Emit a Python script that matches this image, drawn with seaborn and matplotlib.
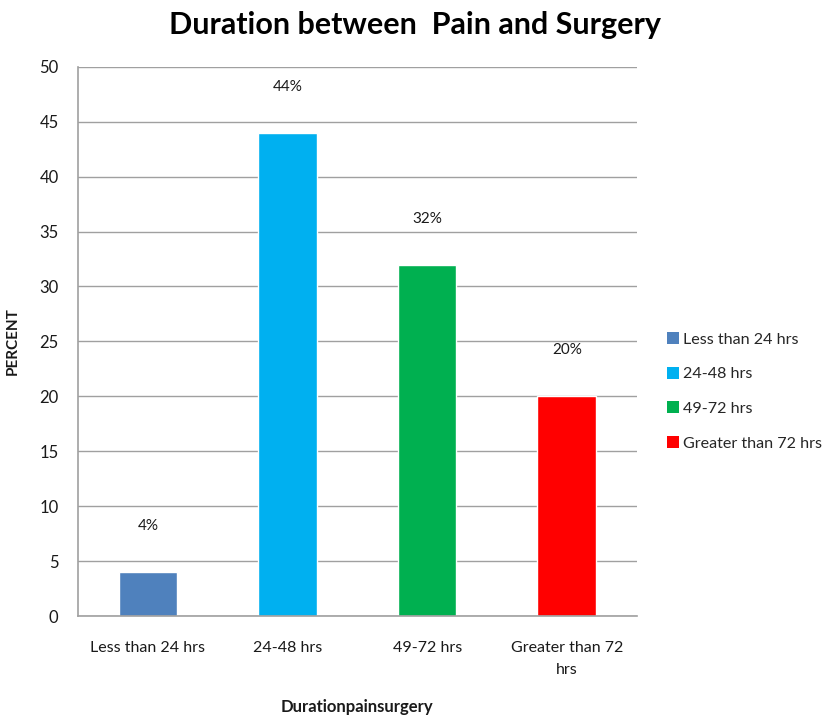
import matplotlib
matplotlib.use("Agg")
import matplotlib.pyplot as plt
import seaborn as sns
import pandas as pd
from matplotlib.patches import Patch

categories = ["Less than 24 hrs", "24-48 hrs", "49-72 hrs", "Greater than 72 hrs"]
tick_labels = ["Less than 24 hrs", "24-48 hrs", "49-72 hrs", "Greater than 72\nhrs"]
values = [4, 44, 32, 20]
value_labels = ["4%", "44%", "32%", "20%"]
colors = ["#4F81BD", "#00B0F0", "#00B050", "#FF0000"]

df = pd.DataFrame({"cat": categories, "val": values})

sns.set_theme(style="white")
plt.rcParams["font.family"] = ["Lato", "DejaVu Sans"]

fig = plt.figure(figsize=(8.3, 7.18), dpi=100)
ax = fig.add_axes([0.094, 0.142, 0.673, 0.765])

sns.barplot(data=df, x="cat", y="val", hue="cat", palette=colors, dodge=False,
            width=0.42, saturation=1, legend=False, ax=ax)

ax.set_ylim(0, 50)
ax.set_xlim(-0.5, 3.5)
ax.set_yticks(range(0, 51, 5))
ax.yaxis.grid(True, color="#A0A0A0", linewidth=1)
ax.set_axisbelow(True)
for s in ["top", "right"]:
    ax.spines[s].set_visible(False)
for s in ["left", "bottom"]:
    ax.spines[s].set_color("#A0A0A0")
    ax.spines[s].set_linewidth(1.2)

ax.set_xticks([-0.5, 0.5, 1.5, 2.5, 3.5], minor=False)
ax.set_xticklabels([])
ax.set_xticks(range(4), minor=True)
ax.set_xticklabels(tick_labels, minor=True, fontsize=11.5, color="#1a1a1a",
                   linespacing=1.7)
ax.tick_params(axis="x", which="major", length=6, color="#A0A0A0", width=1.2)
ax.tick_params(axis="x", which="minor", length=0, pad=18)
ax.tick_params(axis="y", length=6, color="#A0A0A0", width=1.2, labelsize=12,
               labelcolor="#1a1a1a", pad=8)
ax.yaxis.set_tick_params(direction="out")
ax.xaxis.set_tick_params(direction="out")

for i, (v, lab) in enumerate(zip(values, value_labels)):
    ax.annotate(lab, (i, v), xytext=(0, 28), textcoords="offset points",
                ha="center", va="bottom", fontsize=11, color="#1a1a1a")

ax.set_xlabel("Durationpainsurgery", fontsize=12, fontweight="bold", labelpad=16,
              color="#1a1a1a")
ax.set_ylabel("PERCENT", fontsize=11, fontweight="bold", labelpad=14, color="#1a1a1a")

fig.suptitle("Duration between  Pain and Surgery", x=0.5, y=0.985, fontsize=22,
             fontweight="bold", color="#000000")

handles = [Patch(facecolor=c, edgecolor="none") for c in colors]
fig.legend(handles, categories, loc="center left", bbox_to_anchor=(0.804, 0.455),
           frameon=False, fontsize=11.6, handlelength=0.75, handleheight=0.75,
           handletextpad=0.25, labelspacing=1.25, borderpad=0, borderaxespad=0)

fig.savefig("out.png", dpi=100, facecolor="white")
